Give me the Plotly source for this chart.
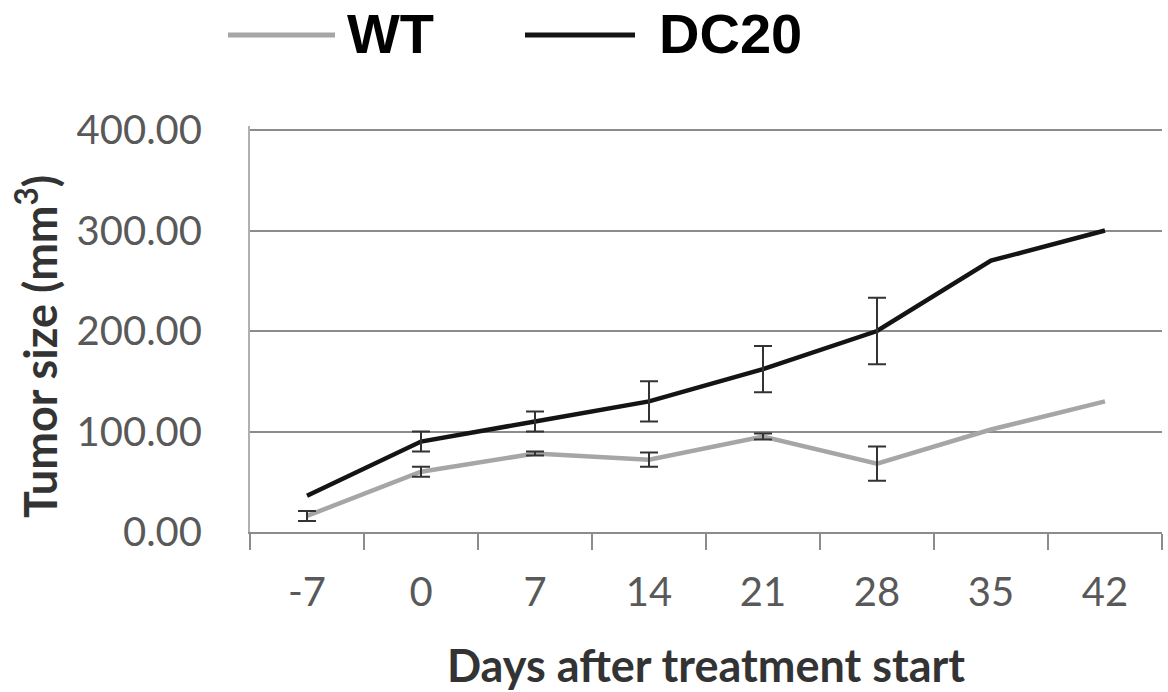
import plotly.graph_objects as go

days = ["-7", "0", "7", "14", "21", "28", "35", "42"]
wt_mean = [16, 60, 78, 72, 95, 68, 102, 130]
wt_err = [5, 5, 2, 7, 3, 17, None, None]
dc20_mean = [36, 90, 110, 130, 162, 200, 270, 300]
dc20_err = [None, 10, 10, 20, 23, 33, None, None]
y_ticks = [0, 100, 200, 300, 400]
y_tick_text = ["0.00", "100.00", "200.00", "300.00", "400.00"]

W, H = 1168, 692
L, R, T, B = 250, 6, 126, 160
PW, PH = W - L - R, H - T - B


def px(xp):
    return (xp - L) / PW


def py(yp):
    return (H - B - yp) / PH


fig = go.Figure()
series = [("WT", wt_mean, wt_err, "#a6a6a6"), ("DC20", dc20_mean, dc20_err, "#141414")]
for name, mean, err, col in series:
    fig.add_trace(go.Scatter(
        x=days, y=mean, mode="lines", name=name,
        line=dict(color=col, width=4.5), showlegend=False,
    ))
for name, mean, err, col in series:
    xs = [d for d, e in zip(days, err) if e is not None]
    ys = [m for m, e in zip(mean, err) if e is not None]
    es = [e for e in err if e is not None]
    fig.add_trace(go.Scatter(
        x=xs, y=ys, mode="markers", marker=dict(size=1, opacity=0),
        error_y=dict(type="data", array=es, visible=True, color="#333333", thickness=2, width=9),
        showlegend=False, hoverinfo="skip",
    ))

# custom legend at top (page pixel positions)
legend_items = [("WT", "#a6a6a6", 228, 335, 345), ("DC20", "#141414", 525, 635, 657)]
for name, col, x0, x1, xt in legend_items:
    fig.add_shape(type="line", xref="paper", yref="paper",
                  x0=px(x0), x1=px(x1), y0=py(35), y1=py(35),
                  line=dict(color=col, width=5))
    fig.add_annotation(text=name, xref="paper", yref="paper",
                       x=px(xt), y=py(33),
                       xanchor="left", yanchor="middle", showarrow=False,
                       font=dict(family="Liberation Sans", size=56, color="#000000", weight="bold"))

# y-axis title (placed as in the reference, slightly below the plot centre)
fig.add_annotation(text="Tumor size (mm<sup>3</sup>)", xref="paper", yref="paper",
                   x=px(37), y=py(347), textangle=-90, showarrow=False,
                   xanchor="center", yanchor="middle",
                   font=dict(family="Lato", size=45, color="#333333", weight="bold"))

fig.update_layout(
    width=W, height=H,
    margin=dict(l=L, r=R, t=T, b=B),
    paper_bgcolor="white", plot_bgcolor="white",
    font=dict(family="Lato", color="#595959"),
)
fig.update_xaxes(
    type="category", range=[-0.5, len(days) - 0.5],
    tickson="boundaries", ticks="outside", ticklen=16, tickwidth=2,
    tickcolor="#8c8c8c", showline=True, linecolor="#8c8c8c", linewidth=2,
    showgrid=False, ticklabelstandoff=24, tickfont=dict(size=40, color="#595959"),
    title=dict(text="Days after treatment start", standoff=36,
               font=dict(size=45, color="#333333", weight="bold")),
)
fig.update_yaxes(
    range=[0, 404], tickvals=y_ticks, ticktext=y_tick_text,
    showgrid=True, gridcolor="#8c8c8c", gridwidth=2, zeroline=False,
    showline=True, linecolor="#b0b0b0", linewidth=2,
    ticks="", ticklabelstandoff=38,
    tickfont=dict(size=40, color="#595959"),
)

fig.write_html("out.html", config={"displayModeBar": False},
               post_script="document.body.style.margin='0';")
